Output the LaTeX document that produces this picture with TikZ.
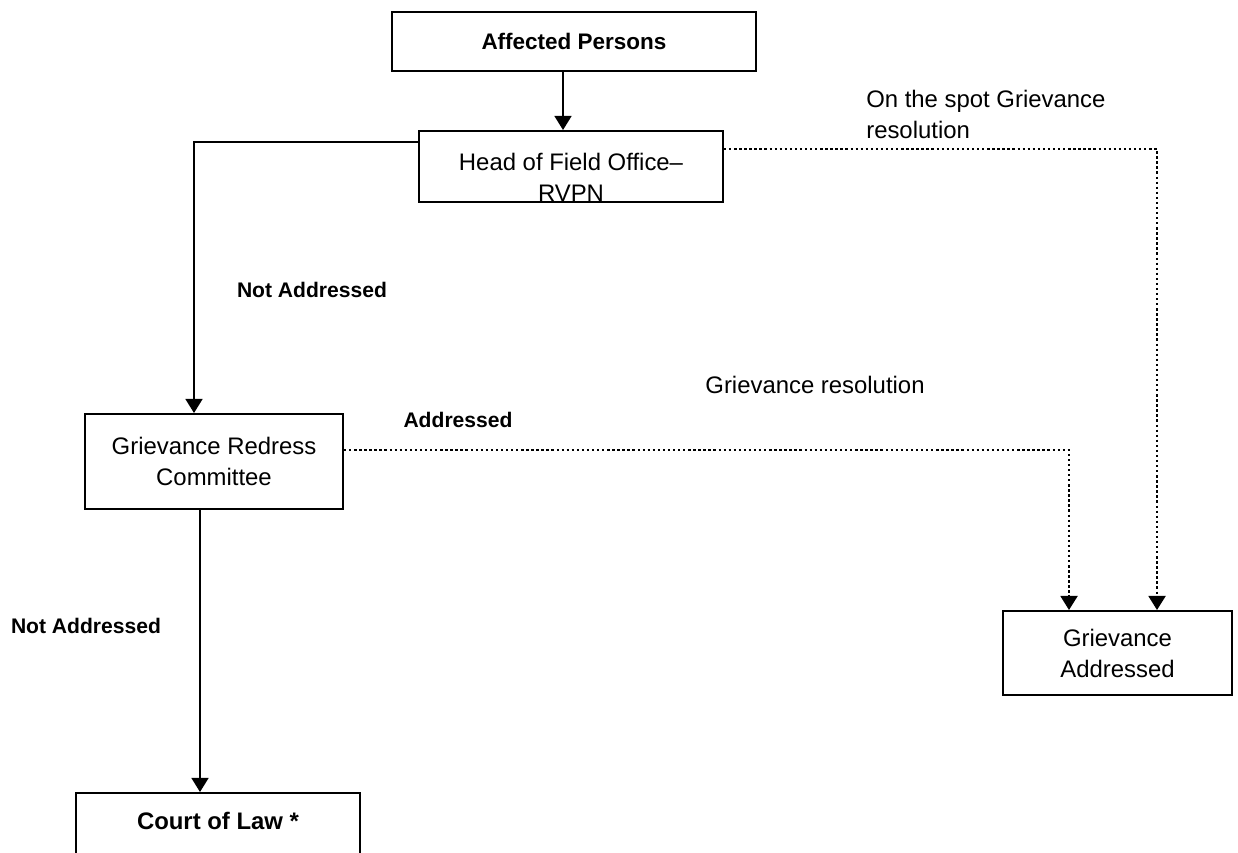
\documentclass[tikz,border=0pt]{standalone}
\usepackage{fontspec}
\setmainfont{Liberation Sans}
\usetikzlibrary{arrows.meta}
\tikzset{
  >={Triangle[length=10pt,width=12pt]},
  box/.style={draw,line width=1.4pt,inner sep=0pt,align=center,
    font=\fontsize{17}{22}\selectfont},
  flow/.style={->,line width=1.4pt},
  dotflow/.style={->,line width=1.7pt,dash pattern=on 1.7pt off 1.9pt},
  tag/.style={inner sep=0pt,font=\fontsize{15}{20}\selectfont\bfseries},
  note/.style={inner sep=0pt,align=left,font=\fontsize{17}{22}\selectfont},
}
\begin{document}
\begin{tikzpicture}
    \useasboundingbox (0,0) rectangle (30.95,-21.3);
    \clip (0,0) rectangle (30.95,-21.3);
    \node[box,minimum width=9.1cm,minimum height=1.475cm,font=\fontsize{16}{22}\selectfont\bfseries] (aff) at (14.35,-1.0375) {Affected Persons};
    \node[box,minimum width=7.6cm,minimum height=1.775cm] (head) at (14.275,-4.1625) {\rule{0pt}{27.3pt}Head of Field Office–\\RVPN};
    \node[box,minimum width=6.45cm,minimum height=2.375cm] (grc) at (5.35,-11.5375) {Grievance Redress\\Committee};
    \node[box,anchor=north,minimum width=7.1cm,minimum height=1.9cm,font=\fontsize{17}{22}\selectfont\bfseries] (court) at (5.45,-19.8) {Court of Law *\rule[-14.2pt]{0pt}{14.2pt}};
    \node[box,minimum width=5.725cm,minimum height=2.1cm] (ga) at (27.9375,-16.325) {Grievance\\Addressed};
    \draw[flow] ([xshift=-0.275cm]aff.south) -- ([xshift=-0.275cm]aff.south |- head.north);
    \draw[flow] ([yshift=0.6125cm]head.west) -| ([xshift=-0.5cm]grc.north);
    \draw[flow] ([xshift=-0.35cm]grc.south) -- ([xshift=-0.35cm]grc.south |- court.north);
    \draw[dotflow] ([yshift=0.2875cm]grc.east) -| ([xshift=-1.2125cm]ga.north);
    \draw[dotflow] ([yshift=0.4375cm]head.east) -| ([xshift=0.9875cm]ga.north);
    % labels on the branches
    \node[tag] (na1) at (7.8,-7.25) {Not Addressed};
    \node[tag] (na2) at (2.15,-15.65) {Not Addressed};
    \node[tag] (adr) at (11.45,-10.5) {Addressed};
    \node[note] (res) at (20.375,-9.625) {Grievance resolution};
    \node[note,anchor=west] (spot) at (21.65,-2.87) {On the spot Grievance\\resolution};
\end{tikzpicture}
\end{document}
